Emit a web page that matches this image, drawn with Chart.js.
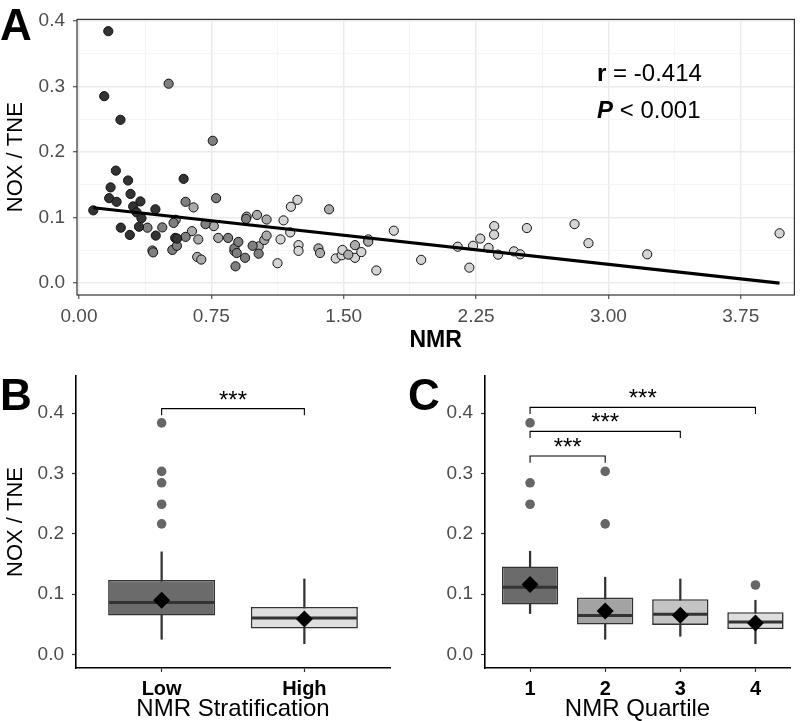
<!DOCTYPE html>
<html>
<head>
<meta charset="utf-8">
<title>NOX / TNE vs NMR</title>
<script src="https://cdn.jsdelivr.net/npm/chart.js@4.4.0/dist/chart.umd.min.js"></script>
<style>
  body { margin: 0; background: #fff; }
  #wrap { position: relative; width: 800px; height: 721px; overflow: hidden; }
  canvas { position: absolute; }
</style>
</head>
<body>
<div id="wrap">
  <canvas id="panelA" width="800" height="352" style="left:0;top:0"></canvas>
  <canvas id="panelB" width="400" height="371" style="left:0;top:350px"></canvas>
  <canvas id="panelC" width="400" height="371" style="left:400px;top:350px"></canvas>
</div>
<script>
const FONT = "'Liberation Sans', Arial, Helvetica, sans-serif";
Chart.defaults.font.family = FONT;
Chart.defaults.animation = false;
Chart.defaults.plugins.legend.display = false;
Chart.defaults.plugins.tooltip.enabled = false;

// ---- panel A: NMR vs NOX/TNE, points grouped by fill shade ----
const nmrDark = [
  [0.081, 0.111], [0.143, 0.285], [0.166, 0.384], [0.171, 0.1295], [0.179, 0.146],
  [0.209, 0.1715], [0.213, 0.124], [0.235, 0.249], [0.237, 0.0846], [0.278, 0.1565],
  [0.288, 0.0735], [0.292, 0.136], [0.307, 0.117], [0.326, 0.108], [0.340, 0.086],
  [0.348, 0.1246], [0.354, 0.099], [0.433, 0.1126], [0.435, 0.0725], [0.545, 0.069],
  [0.556, 0.068], [0.593, 0.159]
];
const nmrMid = [
  [0.388, 0.0846], [0.416, 0.0498], [0.420, 0.047], [0.472, 0.085], [0.508, 0.304],
  [0.529, 0.0507], [0.536, 0.0919], [0.555, 0.057], [0.604, 0.124], [0.604, 0.0706],
  [0.717, 0.090], [0.758, 0.217], [0.777, 0.1295], [0.845, 0.069], [0.881, 0.0532],
  [0.887, 0.0257], [0.894, 0.046], [0.903, 0.0629], [0.941, 0.0387], [0.947, 0.098],
  [0.984, 0.057], [1.018, 0.045]
];
const nmrLight = [
  [0.548, 0.0967], [0.640, 0.0793], [0.649, 0.1155], [0.676, 0.0667], [0.670, 0.040],
  [0.693, 0.036], [0.764, 0.087], [0.789, 0.069], [0.881, 0.049], [0.950, 0.1014],
  [1.009, 0.104], [1.018, 0.056], [1.050, 0.0658], [1.063, 0.097], [1.063, 0.0725],
  [1.357, 0.053], [1.366, 0.046], [1.417, 0.1126], [1.526, 0.0435], [1.564, 0.058],
  [1.639, 0.0633]
];
const nmrLightest = [
  [1.125, 0.0304], [1.142, 0.0667], [1.159, 0.0957], [1.197, 0.0774], [1.201, 0.1165],
  [1.238, 0.127], [1.244, 0.058], [1.244, 0.0493], [1.455, 0.0377], [1.489, 0.0426],
  [1.493, 0.0507], [1.564, 0.0387], [1.600, 0.0474], [1.639, 0.0667], [1.685, 0.0194],
  [1.784, 0.080], [1.939, 0.0355], [2.146, 0.0556], [2.212, 0.0237], [2.233, 0.057],
  [2.274, 0.068], [2.321, 0.0537], [2.353, 0.087], [2.352, 0.074], [2.375, 0.0435],
  [2.465, 0.0485], [2.500, 0.044], [2.538, 0.084], [2.808, 0.090], [2.887, 0.061],
  [3.220, 0.044], [3.970, 0.076]
];
const fitLine = [[0.081, 0.115], [3.970, 0.0]];

const xTicksA = [0, 0.75, 1.5, 2.25, 3, 3.75];
const xTickLabelsA = ['0.00', '0.75', '1.50', '2.25', '3.00', '3.75'];
const yTicks = [0, 0.1, 0.2, 0.3, 0.4];
const yTickLabels = ['0.0', '0.1', '0.2', '0.3', '0.4'];
const corrLabel = { key: 'r', rest: ' = -0.414', x: 2.936, y: 0.318 };
const pLabel = { key: 'P', rest: ' < 0.001', x: 2.936, y: 0.262 };

// ---- panel B: low / high NMR ----
const stratLabels = ['Low', 'High'];
const stratQ1 = [0.0643, 0.0427];
const stratMedian = [0.0858, 0.0603];
const stratQ3 = [0.1234, 0.0786];
const stratWhiskerLow = [0.025, 0.0177];
const stratWhiskerHigh = [0.170, 0.125];
const stratMean = [0.0897, 0.0587];
const stratOutliers = [[1, 0.384], [1, 0.3035], [1, 0.2846], [1, 0.249], [1, 0.2165]];
const stratBrackets = [[1, 2, 0.4077]];

// ---- panel C: NMR quartiles ----
const quartLabels = ['1', '2', '3', '4'];
const quartQ1 = [0.0825, 0.0493, 0.0487, 0.042];
const quartMedian = [0.1113, 0.0643, 0.0664, 0.0537];
const quartQ3 = [0.1457, 0.0942, 0.0914, 0.0698];
const quartWhiskerLow = [0.0676, 0.025, 0.030, 0.0177];
const quartWhiskerHigh = [0.171, 0.128, 0.125, 0.0897];
const quartMean = [0.1157, 0.0719, 0.0648, 0.052];
const quartOutliers = [[1, 0.384], [1, 0.2846], [1, 0.249], [2, 0.3035], [2, 0.2165], [4, 0.115]];
const quartBrackets = [[1, 2, 0.329], [1, 3, 0.370], [1, 4, 0.4098]];

const toXY = (arr) => arr.map(([x, y]) => ({ x, y }));

function withMinor(values) {
  // major ticks plus a minor tick halfway between each pair (ggplot style grid)
  const out = [];
  values.forEach((v, i) => {
    out.push({ value: v });
    if (i < values.length - 1) out.push({ value: (v + values[i + 1]) / 2, minor: true });
  });
  return out;
}

function dots(data, fill) {
  return {
    type: 'scatter', data: toXY(data), backgroundColor: fill,
    borderColor: '#111', borderWidth: 1, pointRadius: 4.6, order: 1
  };
}

const gridA = {
  color: (c) => (c.tick && c.tick.minor ? '#f3f3f3' : '#ebebeb'),
  lineWidth: (c) => (c.tick && c.tick.minor ? 0.8 : 1.5),
  tickColor: (c) => (c.tick && c.tick.minor ? 'rgba(0,0,0,0)' : '#333'),
  tickLength: 4,
  tickWidth: 1
};

const panelAExtras = {
  id: 'panelAExtras',
  afterDraw(chart) {
    const { ctx, chartArea: a, scales: { x, y } } = chart;
    ctx.save();
    ctx.strokeStyle = '#333';
    ctx.lineWidth = 1.2;
    ctx.strokeRect(a.left, a.top, a.right - a.left, a.bottom - a.top);

    ctx.fillStyle = '#000';
    ctx.textBaseline = 'middle';
    [corrLabel, pLabel].forEach((lab, i) => {
      const px = x.getPixelForValue(lab.x), py = y.getPixelForValue(lab.y);
      ctx.font = (i === 0 ? 'bold ' : 'italic bold ') + '24px ' + FONT;
      ctx.fillText(lab.key, px, py);
      const w = ctx.measureText(lab.key).width;
      ctx.font = '24px ' + FONT;
      ctx.fillText(lab.rest, px + w, py);
    });

    ctx.font = 'bold 44px ' + FONT;
    ctx.textBaseline = 'alphabetic';
    ctx.fillText('A', 0, 40);
    ctx.restore();
  }
};

new Chart(document.getElementById('panelA'), {
  type: 'scatter',
  data: {
    datasets: [
      { type: 'line', data: toXY(fitLine), borderColor: '#000', borderWidth: 3.2,
        pointRadius: 0, fill: false, order: 0 },
      dots(nmrDark, '#333333'),
      dots(nmrMid, '#7f7f7f'),
      dots(nmrLight, '#ababab'),
      dots(nmrLightest, '#d4d4d4')
    ]
  },
  options: {
    responsive: false,
    layout: { padding: { top: 5, right: 3, left: 0, bottom: 0 } },
    scales: {
      x: {
        type: 'linear', min: -0.0113, max: 4.054,
        afterBuildTicks: (s) => { s.ticks = withMinor(xTicksA); },
        afterFit: (s) => { s.height = 57; },
        grid: gridA,
        border: { display: false },
        ticks: {
          autoSkip: false, maxRotation: 0, padding: 6, color: '#4d4d4d',
          font: { size: 19 },
          callback: (v, i, t) => (t[i].minor ? '' : xTickLabelsA[xTicksA.indexOf(v)])
        },
        title: { display: true, text: 'NMR', color: '#000',
          font: { size: 23, weight: 'bold', lineHeight: 1 }, padding: { top: 0, bottom: 0 } }
      },
      y: {
        min: -0.018, max: 0.402,
        afterBuildTicks: (s) => { s.ticks = withMinor(yTicks); },
        afterFit: (s) => { s.width = 77; },
        grid: gridA,
        border: { display: false },
        ticks: {
          autoSkip: false, padding: 8, color: '#4d4d4d', font: { size: 19 },
          callback: (v, i, t) => (t[i].minor ? '' : yTickLabels[yTicks.indexOf(v)])
        },
        title: { display: true, text: 'NOX / TNE', color: '#000',
          font: { size: 22 }, padding: { top: 3, bottom: 0 } }
      }
    }
  },
  plugins: [panelAExtras]
});

// ---- box plot panels ----
function boxPanel(id, cfg) {
  const xs = cfg.labels.map((_, i) => i + 1);
  const extras = {
    id: 'boxExtras',
    afterDatasetDraw(chart, args) {
      if (chart.data.datasets[args.index].label !== 'box') return;
      const ctx = chart.ctx, y = chart.scales.y;
      ctx.save();
      ctx.strokeStyle = '#333';
      ctx.lineWidth = 3;
      args.meta.data.forEach((bar, i) => {
        const py = y.getPixelForValue(cfg.median[i]);
        ctx.beginPath();
        ctx.moveTo(bar.x - bar.width / 2 + 1, py);
        ctx.lineTo(bar.x + bar.width / 2 - 1, py);
        ctx.stroke();
      });
      ctx.restore();
    },
    afterDraw(chart) {
      const { ctx, scales: { x, y } } = chart;
      ctx.save();
      ctx.strokeStyle = '#000';
      ctx.lineWidth = 1.1;
      ctx.fillStyle = '#000';
      ctx.textAlign = 'center';
      ctx.textBaseline = 'alphabetic';
      ctx.font = '24px ' + FONT;
      cfg.brackets.forEach(([from, to, level]) => {
        const x1 = x.getPixelForValue(from), x2 = x.getPixelForValue(to);
        const yb = y.getPixelForValue(level), yt = y.getPixelForValue(level - 0.011);
        ctx.beginPath();
        ctx.moveTo(x1, yt); ctx.lineTo(x1, yb); ctx.lineTo(x2, yb); ctx.lineTo(x2, yt);
        ctx.stroke();
        ctx.fillText('***', (x1 + x2) / 2, yb - 1);
      });
      ctx.textAlign = 'left';
      ctx.font = 'bold 44px ' + FONT;
      ctx.fillText(cfg.letter, cfg.letterX, 60);
      ctx.restore();
    }
  };

  return new Chart(document.getElementById(id), {
    type: 'bar',
    data: {
      datasets: [
        { type: 'scatter', data: xs.map((x, i) => ({ x, y: cfg.mean[i] })), pointStyle: 'rectRot',
          pointRadius: 8.5, backgroundColor: '#000', borderWidth: 0, order: 0 },
        { type: 'scatter', data: toXY(cfg.outliers), pointRadius: 4.8,
          backgroundColor: '#666', borderWidth: 0, order: 1 },
        { label: 'box', data: xs.map((x, i) => ({ x, y: [cfg.q1[i], cfg.q3[i]] })),
          backgroundColor: cfg.fills, borderColor: '#333', borderWidth: 1.6, borderSkipped: false,
          barPercentage: 0.75, categoryPercentage: 1, grouped: false, order: 2 },
        { label: 'whisker', data: xs.map((x, i) => ({ x, y: [cfg.lo[i], cfg.hi[i]] })),
          backgroundColor: '#333', barThickness: 1.6, grouped: false, order: 3 }
      ]
    },
    options: {
      responsive: false,
      layout: { padding: { top: 26, right: 10, left: 0, bottom: 0 } },
      scales: {
        x: {
          type: 'linear', min: 0.4, max: cfg.xMax, offset: false,
          afterBuildTicks: (s) => { s.ticks = xs.map((v) => ({ value: v })); },
          afterFit: (s) => { s.height = 53; },
          grid: { display: true, offset: false, drawOnChartArea: false, drawTicks: true,
            tickLength: 4, tickColor: '#333', tickWidth: 1.2 },
          border: { display: true, color: '#000', width: 1.6 },
          ticks: { autoSkip: false, maxRotation: 0, padding: 5, color: '#000',
            font: { size: 20, weight: 'bold' }, callback: (v, i) => cfg.labels[i] },
          title: { display: true, text: cfg.xTitle, color: '#000',
            font: { size: 24, lineHeight: 1 }, padding: { top: 0, bottom: 0 } }
        },
        y: {
          min: -0.0227, max: 0.4618,
          afterBuildTicks: (s) => { s.ticks = yTicks.map((v) => ({ value: v })); },
          afterFit: (s) => { s.width = cfg.yWidth; },
          grid: { display: true, offset: false, drawOnChartArea: false, drawTicks: true,
            tickLength: 4, tickColor: '#333', tickWidth: 1.2 },
          border: { display: true, color: '#000', width: 1.6 },
          ticks: { autoSkip: false, padding: 8, color: '#4d4d4d', font: { size: 19 },
            callback: (v, i) => yTickLabels[i] },
          title: { display: !!cfg.yTitle, text: cfg.yTitle || '', color: '#000',
            font: { size: 22 }, padding: { top: 3, bottom: 0 } }
        }
      }
    },
    plugins: [extras]
  });
}

boxPanel('panelB', {
  letter: 'B', letterX: 0, labels: stratLabels, xMax: 2.6, yWidth: 76,
  xTitle: 'NMR Stratification', yTitle: 'NOX / TNE',
  q1: stratQ1, median: stratMedian, q3: stratQ3, lo: stratWhiskerLow, hi: stratWhiskerHigh,
  mean: stratMean, outliers: stratOutliers, brackets: stratBrackets,
  fills: ['#6b6b6b', '#dedede']
});

boxPanel('panelC', {
  letter: 'C', letterX: 8, labels: quartLabels, xMax: 4.46, yWidth: 85,
  xTitle: 'NMR Quartile', yTitle: null,
  q1: quartQ1, median: quartMedian, q3: quartQ3, lo: quartWhiskerLow, hi: quartWhiskerHigh,
  mean: quartMean, outliers: quartOutliers, brackets: quartBrackets,
  fills: ['#6b6b6b', '#a3a3a3', '#c4c4c4', '#dedede']
});
</script>
</body>
</html>
